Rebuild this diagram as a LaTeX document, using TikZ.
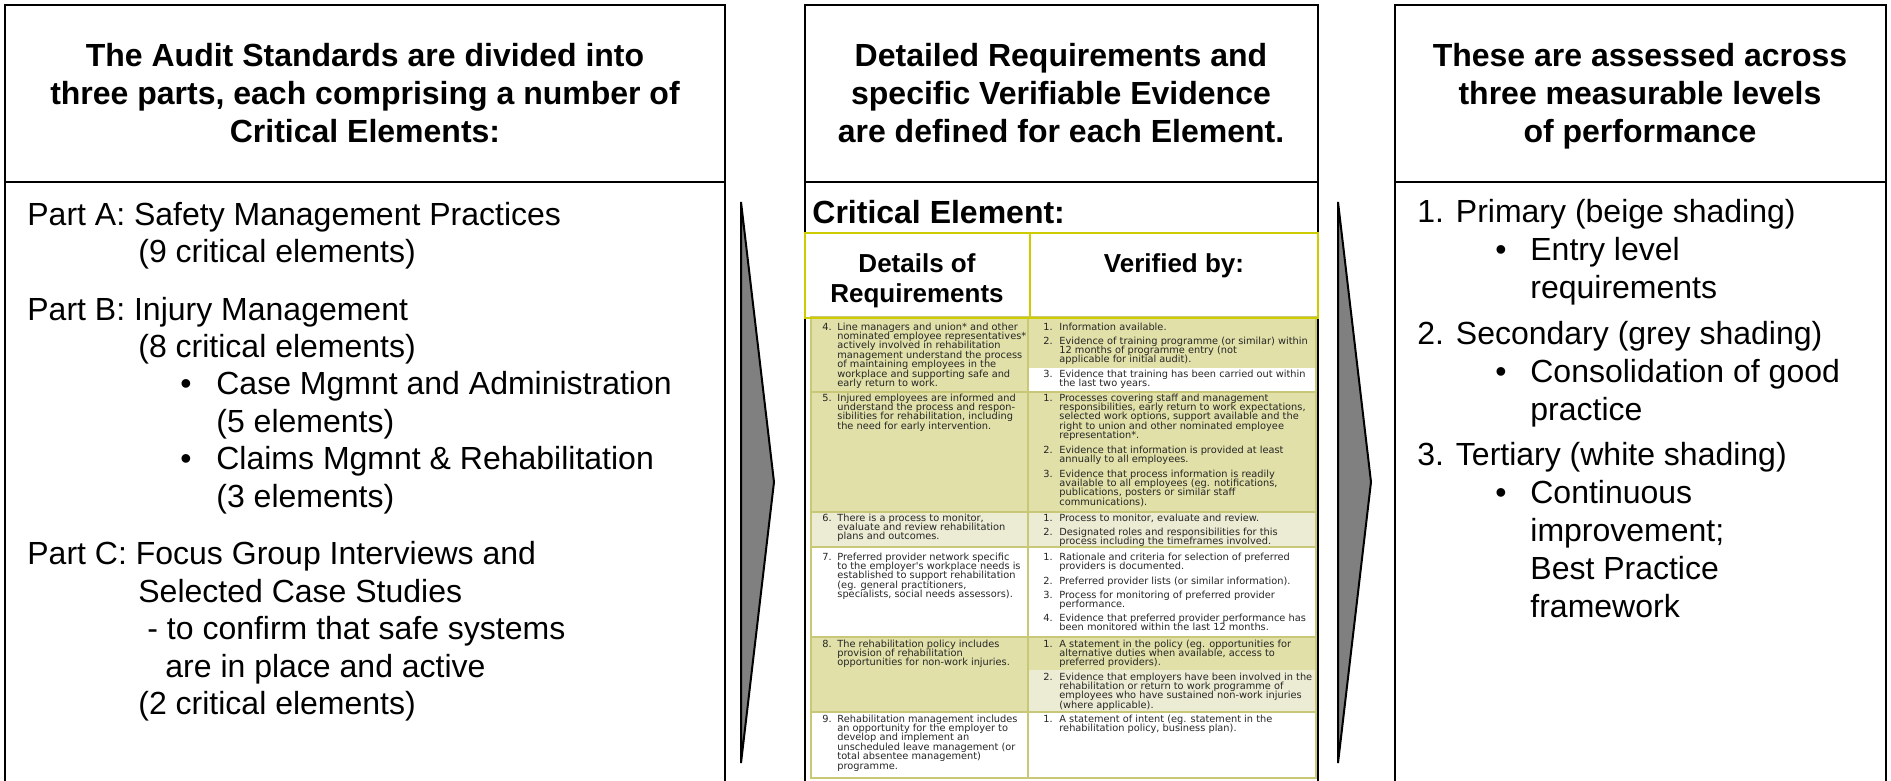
\documentclass[tikz,border=0pt]{standalone}
\usepackage{fontspec}
\setmainfont{Liberation Sans}
\newfontfamily\tablefont{DejaVu Sans}
\usepackage{tikz}
\usetikzlibrary{positioning}
\definecolor{head-yellow}{RGB}{204,204,0}
\definecolor{row-line}{RGB}{200,200,120}
\definecolor{beige-dark}{RGB}{224,224,168}
\definecolor{beige-light}{RGB}{236,236,212}
\definecolor{chevron-grey}{RGB}{128,128,128}
\tikzset{panel/.style =
   {draw,
    line width=1pt}}
\tikzset{heading/.style =
   {anchor=base,
    inner sep=0pt,
    font=\bfseries\fontsize{16}{19}\selectfont}}
\tikzset{body/.style =
   {anchor=base west,
    inner sep=0pt,
    font=\fontsize{16}{18.75}\selectfont}}
\tikzset{colhead/.style =
   {anchor=base,
    inner sep=0pt,
    font=\bfseries\fontsize{13}{15}\selectfont}}
\tikzset{req-text/.style =
   {anchor=base west,
    inner sep=0pt,
    text=black!85,
    font=\tablefont\fontsize{4.9}{4.7}\selectfont}}
\tikzset{chevron/.style =
   {draw,
    fill=chevron-grey,
    line width=1pt}}
\newcommand{\numbered}[3]{\makebox[#1][l]{#2}%
   \parbox[t]{150pt}{\lineskiplimit=-5pt\lineskip=0pt\relax #3}}

\begin{document}
\begin{tikzpicture}[x=0.5pt,y=-0.5pt]

    \useasboundingbox (0,0) rectangle (1891,781);

    % three panels, open at the bottom
    \draw[panel] (5,790) |- (725,5) -- (725,790);
    \draw[panel] (5,182) -- (725,182);
    \draw[panel] (805,790) |- (1318,5) -- (1318,790);
    \draw[panel] (805,182) -- (1318,182);
    \draw[panel] (1395,790) |- (1886,5) -- (1886,790);
    \draw[panel] (1395,182) -- (1886,182);

    % chevrons between the panels
    \draw[chevron] (741,202) -- (774,482) -- (741,763) -- cycle;
    \draw[chevron] (1338,202) -- (1371,482) -- (1338,763) -- cycle;

    % headings
    \node[heading] (head-left) at (365,67)
    {\parbox[t]{340pt}{\centering The Audit Standards are divided into\\
                                  three parts, each comprising a number of\\
                                  Critical Elements:}};
    \node[heading] (head-mid) at (1061,67)
    {\parbox[t]{250pt}{\centering Detailed Requirements and\\
                                  specific Verifiable Evidence\\
                                  are defined for each Element.}};
    \node[heading] (head-right) at (1640,67)
    {\parbox[t]{240pt}{\centering These are assessed across\\
                                  three measurable levels\\
                                  of performance}};

    % left panel: the three parts
    \node[body] (parts) at (27,225)
    {\parbox[t]{350pt}{Part A: Safety Management Practices\\
     \hspace*{55.5pt}(9 critical elements)\\[10pt]
     Part B: Injury Management\\
     \hspace*{55.5pt}(8 critical elements)\\
     \hspace*{76.5pt}\makebox[18pt][l]{•}Case Mgmnt and Administration\\
     \hspace*{94.5pt}(5 elements)\\
     \hspace*{76.5pt}\makebox[18pt][l]{•}Claims Mgmnt \& Rehabilitation\\
     \hspace*{94.5pt}(3 elements)\\[10pt]
     Part C: Focus Group Interviews and\\
     \hspace*{55.5pt}Selected Case Studies\\
     \hspace*{60pt}- to confirm that safe systems\\
     \hspace*{69pt}are in place and active\\
     \hspace*{55.5pt}(2 critical elements)}};

    % right panel: the three levels
    \node[body,
          font=\fontsize{16}{19}\selectfont] (levels) at (1417,222)
    {\parbox[t]{230pt}{1. Primary (beige shading)\\
     \hspace*{39pt}\makebox[17.5pt][l]{•}Entry level\\
     \hspace*{56.5pt}requirements\\[4pt]
     2. Secondary (grey shading)\\
     \hspace*{39pt}\makebox[17.5pt][l]{•}Consolidation of good\\
     \hspace*{56.5pt}practice\\[4pt]
     3. Tertiary (white shading)\\
     \hspace*{39pt}\makebox[17.5pt][l]{•}Continuous\\
     \hspace*{56.5pt}improvement;\\
     \hspace*{56.5pt}Best Practice\\
     \hspace*{56.5pt}framework}};

    % middle panel: critical element table
    \node[body,
          font=\bfseries\fontsize{16}{19}\selectfont] (element) at (812,223) {Critical Element:};

    \fill[beige-dark] (811,317) rectangle (1028,392);
    \fill[beige-dark] (1028,317) rectangle (1316,368);
    \fill[beige-dark] (811,392) rectangle (1316,512);
    \fill[beige-light] (811,512) rectangle (1316,547);
    \fill[beige-dark] (811,637) rectangle (1028,712);
    \fill[beige-dark] (1028,637) rectangle (1316,670);
    \fill[beige-light] (1028,670) rectangle (1316,712);
    \foreach \y in {392,512,547,637,712}
        \draw[row-line, line width=0.6pt] (811,\y) -- (1316,\y);
    \draw[row-line, line width=0.6pt] (1028,317) -- (1028,778);
    \draw[row-line, line width=0.8pt] (811,317) rectangle (1316,778);

    \draw[head-yellow, line width=1.4pt] (805,233) rectangle (1318,318);
    \draw[head-yellow, line width=1.4pt] (1030,233) -- (1030,318);
    \node[colhead] (details) at (917,272)
    {\parbox[t]{110pt}{\centering Details of\\ Requirements}};
    \node[colhead] (verified) at (1174,272) {Verified by:};

    % requirement rows
    \node[req-text] (req4) at (822,330)
    {\numbered{7.5pt}{4.}{Line managers and union* and other\\
     nominated employee representatives*\\
     actively involved in rehabilitation\\
     management understand the process\\
     of maintaining employees in the\\
     workplace and supporting safe and\\
     early return to work.}};
    \node[req-text] (ver4a) at (1043,330)
    {\numbered{8pt}{1.}{Information available.}};
    \node[req-text] (ver4b) at (1043,344)
    {\numbered{8pt}{2.}{Evidence of training programme (or similar) within\\
     12 months of programme entry (not\\
     applicable for initial audit).}};
    \node[req-text] (ver4c) at (1043,377)
    {\numbered{8pt}{3.}{Evidence that training has been carried out within\\
     the last two years.}};

    \node[req-text] (req5) at (822,401)
    {\numbered{7.5pt}{5.}{Injured employees are informed and\\
     understand the process and respon-\\
     sibilities for rehabilitation, including\\
     the need for early intervention.}};
    \node[req-text] (ver5a) at (1043,401)
    {\numbered{8pt}{1.}{Processes covering staff and management\\
     responsibilities, early return to work expectations,\\
     selected work options, support available and the\\
     right to union and other nominated employee\\
     representation*.}};
    \node[req-text] (ver5b) at (1043,453)
    {\numbered{8pt}{2.}{Evidence that information is provided at least\\
     annually to all employees.}};
    \node[req-text] (ver5c) at (1043,477)
    {\numbered{8pt}{3.}{Evidence that process information is readily\\
     available to all employees (eg. notifications,\\
     publications, posters or similar staff\\
     communications).}};

    \node[req-text] (req6) at (822,521)
    {\numbered{7.5pt}{6.}{There is a process to monitor,\\
     evaluate and review rehabilitation\\
     plans and outcomes.}};
    \node[req-text] (ver6a) at (1043,521)
    {\numbered{8pt}{1.}{Process to monitor, evaluate and review.}};
    \node[req-text] (ver6b) at (1043,535)
    {\numbered{8pt}{2.}{Designated roles and responsibilities for this\\
     process including the timeframes involved.}};

    \node[req-text] (req7) at (822,560)
    {\numbered{7.5pt}{7.}{Preferred provider network specific\\
     to the employer's workplace needs is\\
     established to support rehabilitation\\
     (eg. general practitioners,\\
     specialists, social needs assessors).}};
    \node[req-text] (ver7a) at (1043,560)
    {\numbered{8pt}{1.}{Rationale and criteria for selection of preferred\\
     providers is documented.}};
    \node[req-text] (ver7b) at (1043,584)
    {\numbered{8pt}{2.}{Preferred provider lists (or similar information).}};
    \node[req-text] (ver7c) at (1043,598)
    {\numbered{8pt}{3.}{Process for monitoring of preferred provider\\
     performance.}};
    \node[req-text] (ver7d) at (1043,621)
    {\numbered{8pt}{4.}{Evidence that preferred provider performance has\\
     been monitored within the last 12 months.}};

    \node[req-text] (req8) at (822,647)
    {\numbered{7.5pt}{8.}{The rehabilitation policy includes\\
     provision of rehabilitation\\
     opportunities for non-work injuries.}};
    \node[req-text] (ver8a) at (1043,647)
    {\numbered{8pt}{1.}{A statement in the policy (eg. opportunities for\\
     alternative duties when available, access to\\
     preferred providers).}};
    \node[req-text] (ver8b) at (1043,680)
    {\numbered{8pt}{2.}{Evidence that employers have been involved in the\\
     rehabilitation or return to work programme of\\
     employees who have sustained non-work injuries\\
     (where applicable).}};

    \node[req-text] (req9) at (822,722)
    {\numbered{7.5pt}{9.}{Rehabilitation management includes\\
     an opportunity for the employer to\\
     develop and implement an\\
     unscheduled leave management (or\\
     total absentee management)\\
     programme.}};
    \node[req-text] (ver9a) at (1043,722)
    {\numbered{8pt}{1.}{A statement of intent (eg. statement in the\\
     rehabilitation policy, business plan).}};

\end{tikzpicture}
\end{document}
